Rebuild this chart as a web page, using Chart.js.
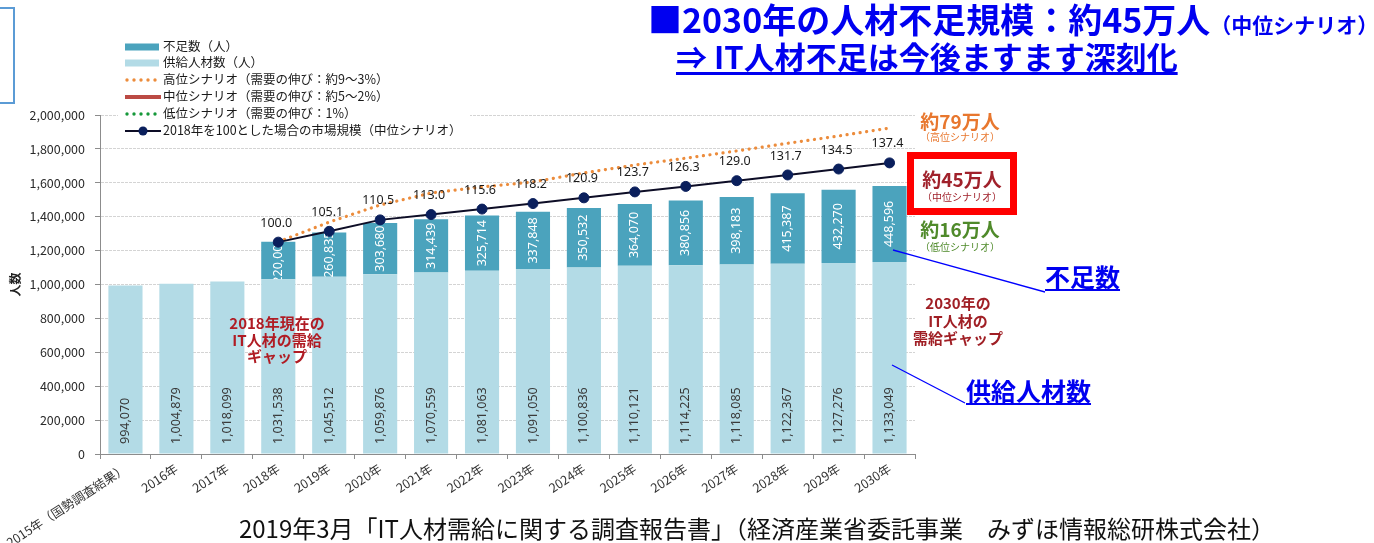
<!DOCTYPE html>
<html><head><meta charset="utf-8">
<script src="https://cdn.jsdelivr.net/npm/chart.js@4.4.1/dist/chart.umd.min.js"></script>
<style>
html,body{margin:0;padding:0;background:#fff;width:1374px;height:543px;overflow:hidden;font-family:'Noto Sans CJK JP','Noto Sans',sans-serif;}
#wrap{position:relative;width:1374px;height:543px;}
#c{position:absolute;left:0;top:0;}
.t{position:absolute;white-space:nowrap;line-height:1;}
.b{font-weight:bold;}
.ctr{text-align:center;}
#legendbox{position:absolute;left:118px;top:37px;width:352px;height:104px;background:#fff;}
.lg{position:absolute;left:163px;font-size:12.5px;color:#1a1a1a;line-height:1;white-space:nowrap;}
svg{position:absolute;left:0;top:0;}
</style></head>
<body><div id="wrap">
<canvas id="c" width="1374" height="543"></canvas>
<div id="legendbox"></div>
<svg width="1374" height="543" id="ov"></svg>
<div style="position:absolute;left:-10px;top:7px;width:21px;height:93px;border:2px solid #5b9bd5;"></div>
<div class="t b" style="left:648px;top:2px;font-size:34px;color:#0000f0;">■2030年の人材不足規模：約45万人<span style="font-size:21px;">（中位シナリオ）</span></div>
<div class="t b" style="left:676px;top:40px;font-size:31px;color:#0000f0;text-decoration:underline;text-underline-offset:3px;">⇒ IT人材不足は今後ますます深刻化</div>
<div class="lg" style="top:40px;">不足数（人）</div>
<div class="lg" style="top:56px;">供給人材数（人）</div>
<div class="lg" style="top:73px;">高位シナリオ（需要の伸び：約9～3%）</div>
<div class="lg" style="top:90px;">中位シナリオ（需要の伸び：約5～2%）</div>
<div class="lg" style="top:107px;">低位シナリオ（需要の伸び：1%）</div>
<div class="lg" style="top:124px;">2018年を100とした場合の市場規模（中位シナリオ）</div>
<div class="t b ctr" style="left:900px;width:120px;top:111px;font-size:19px;color:#e8772e;">約79万人</div>
<div class="t ctr" style="left:900px;width:120px;top:132px;font-size:10px;color:#e8772e;">（高位シナリオ）</div>
<div style="position:absolute;left:907px;top:152px;width:110px;height:63px;border:7px solid #ff0000;box-sizing:border-box;background:#fff;"></div>
<div class="t b ctr" style="left:902px;width:120px;top:169px;font-size:19px;color:#a0212b;">約45万人</div>
<div class="t ctr" style="left:902px;width:120px;top:192px;font-size:10px;color:#a0212b;">（中位シナリオ）</div>
<div class="t b ctr" style="left:900px;width:120px;top:219px;font-size:19px;color:#4f8a2a;">約16万人</div>
<div class="t ctr" style="left:900px;width:120px;top:242px;font-size:10px;color:#4f8a2a;">（低位シナリオ）</div>
<div class="t b" style="left:1045px;top:264px;font-size:25px;color:#0000f0;text-decoration:underline;">不足数</div>
<div class="t b" style="left:966px;top:378px;font-size:25px;color:#0000f0;text-decoration:underline;">供給人材数</div>
<div class="t b ctr" style="left:898px;width:120px;top:294px;font-size:15px;line-height:17.5px;color:#a01f25;">2030年の<br>IT人材の<br>需給ギャップ</div>
<div class="t b ctr" style="left:217px;width:120px;top:315px;font-size:15px;line-height:16.5px;color:#b01c24;">2018年現在の<br>IT人材の需給<br>ギャップ</div>
<div class="t ctr" style="left:157px;width:1200px;top:516px;font-size:24px;color:#111;">2019年3月「IT人材需給に関する調査報告書」（経済産業省委託事業　みずほ情報総研株式会社）</div>
</div>
<script>
const categories = ['2015年（国勢調査結果）','2016年','2017年','2018年','2019年','2020年','2021年','2022年','2023年','2024年','2025年','2026年','2027年','2028年','2029年','2030年'];
const supplyValues = [994070,1004879,1018099,1031538,1045512,1059876,1070559,1081063,1091050,1100836,1110121,1114225,1118085,1122367,1127276,1133049];
const shortageValues = [null,null,null,220000,260835,303680,314439,325714,337848,350532,364070,380856,398183,415387,432270,448596];
const midScenario = [null,null,null,1251538,1306347,1363556,1384998,1406777,1428898,1451368,1474191,1495081,1516268,1537754,1559546,1581645];
const highScenario = [null,null,null,1251538,1368000,1469000,1540000,1575000,1605000,1658000,1705000,1745000,1788000,1833000,1876000,1923049];
const lowScenario = [null,null,null,1251538,1255000,1259000,1262000,1266000,1269000,1273000,1276000,1280000,1283000,1286000,1290000,1293049];
const marketIndex = [null,null,null,100.0,105.1,110.5,113.0,115.6,118.2,120.9,123.7,126.3,129.0,131.7,134.5,137.4];
const yMin = 0, yMax = 2000000, yStep = 200000;
const indexMin = 0, indexMax = 160;

const C_SHORT = '#4ba3bd', C_SUPPLY = '#b3dbe6', C_HIGH = '#ec8c3c', C_MID = '#bb4a44', C_LOW = '#16983a', C_MKT_LINE = '#0d0d26', C_MKT_PT = '#0a1f5c';

(function(){
  const ov = document.getElementById('ov');
  const ns = 'http://www.w3.org/2000/svg';
  function el(tag, attrs){const e=document.createElementNS(ns,tag);for(const k in attrs)e.setAttribute(k,attrs[k]);ov.appendChild(e);return e;}
  el('rect',{x:125,y:43.5,width:34,height:7,fill:C_SHORT});
  el('rect',{x:125,y:59.5,width:34,height:7,fill:C_SUPPLY});
  for(let i=0;i<5;i++) el('circle',{cx:127+i*7,cy:80,r:1.7,fill:C_HIGH});
  el('line',{x1:125,y1:97,x2:161,y2:97,stroke:C_MID,'stroke-width':4});
  for(let i=0;i<5;i++) el('circle',{cx:127+i*7,cy:114,r:1.7,fill:C_LOW});
  el('line',{x1:125,y1:131,x2:161,y2:131,stroke:C_MKT_LINE,'stroke-width':2});
  el('circle',{cx:143,cy:131,r:4.5,fill:C_MKT_PT});
  el('line',{x1:893,y1:250,x2:1045,y2:292,stroke:'#0000ff','stroke-width':1.3});
  el('line',{x1:892,y1:365,x2:965,y2:403,stroke:'#0000ff','stroke-width':1.3});
})();

const labelPlugin = {
  id:'valueLabels',
  afterDatasetDraw(chart, args){
    const ds = chart.data.datasets[args.index];
    const ctx = chart.ctx;
    if (ds.labelKind === 'supply' || ds.labelKind === 'shortage'){
      ctx.save();
      ctx.font = "12.5px 'Noto Sans', sans-serif";
      args.meta.data.forEach((bar, i) => {
        const v = ds.data[i];
        if (v == null) return;
        const txt = v.toLocaleString('en-US');
        ctx.save();
        if (ds.labelKind === 'supply'){
          ctx.translate(bar.x, chart.chartArea.bottom - 10);
          ctx.rotate(-Math.PI/2);
          ctx.textAlign = 'left'; ctx.textBaseline = 'middle';
          ctx.fillStyle = '#3a3a3a';
        } else {
          ctx.translate(bar.x, (bar.y + bar.base)/2);
          ctx.rotate(-Math.PI/2);
          ctx.textAlign = 'center'; ctx.textBaseline = 'middle';
          ctx.fillStyle = '#ffffff';
        }
        ctx.fillText(txt, 0, 0);
        ctx.restore();
      });
      ctx.restore();
    }
  },
  afterDatasetsDraw(chart){
    const ctx = chart.ctx;
    chart.data.datasets.forEach((ds, di) => {
      if (ds.labelKind !== 'market') return;
      const meta = chart.getDatasetMeta(di);
      ctx.save();
      ctx.font = "12.5px 'Noto Sans', sans-serif";
      ctx.fillStyle = '#1a1a1a';
      ctx.textAlign = 'center'; ctx.textBaseline = 'middle';
      meta.data.forEach((pt, i) => {
        const v = ds.data[i];
        if (v == null) return;
        ctx.fillText(v.toFixed(1), pt.x - 2, pt.y - 19);
      });
      ctx.restore();
    });
  }
};

Chart.defaults.font.family = "'Noto Sans CJK JP','Noto Sans',sans-serif";
new Chart(document.getElementById('c'), {
  type:'bar',
  data:{
    labels: categories,
    datasets:[
      {type:'line', label:'2018年を100とした場合の市場規模（中位シナリオ）', data: marketIndex, yAxisID:'y1', order:0,
        borderColor:C_MKT_LINE, borderWidth:2, pointRadius:5, pointBackgroundColor:C_MKT_PT, pointBorderColor:C_MKT_PT, pointBorderWidth:1, tension:0, labelKind:'market'},
      {type:'line', label:'高位シナリオ（需要の伸び：約9～3%）', data: highScenario, yAxisID:'y', order:1,
        borderColor:C_HIGH, borderWidth:3.2, borderDash:[0.1,6.5], borderCapStyle:'round', pointRadius:0, tension:0},
      {type:'line', label:'低位シナリオ（需要の伸び：1%）', data: lowScenario, yAxisID:'y', order:2,
        borderColor:C_LOW, borderWidth:3.2, borderDash:[0.1,7.5], borderCapStyle:'round', pointRadius:0, tension:0},
      {type:'line', label:'中位シナリオ（需要の伸び：約5～2%）', data: midScenario, yAxisID:'y', order:3,
        borderColor:C_MID, borderWidth:4, pointRadius:0, tension:0},
      {type:'bar', label:'供給人材数（人）', data: supplyValues, yAxisID:'y', order:10, stack:'s',
        backgroundColor:C_SUPPLY, barPercentage:0.67, categoryPercentage:1, labelKind:'supply'},
      {type:'bar', label:'不足数（人）', data: shortageValues, yAxisID:'y', order:11, stack:'s',
        backgroundColor:C_SHORT, barPercentage:0.67, categoryPercentage:1, labelKind:'shortage'}
    ]
  },
  options:{
    responsive:false, devicePixelRatio:1, animation:false, events:[],
    layout:{padding:{left:0, top:115, right:459, bottom:0}},
    plugins:{legend:{display:false}, tooltip:{enabled:false}},
    scales:{
      x:{
        stacked:true,
        grid:{display:true, drawOnChartArea:false, drawTicks:true, tickLength:5, tickColor:'#8c8c8c', offset:true},
        border:{display:true, color:'#8c8c8c'},
        ticks:{autoSkip:false, minRotation:33, maxRotation:33, color:'#333', font:{size:12.5}, padding:2},
        afterFit(scale){ scale.height = 89; }
      },
      y:{
        stacked:true, min:yMin, max:yMax,
        ticks:{stepSize:yStep, color:'#2a2a2a', font:{size:12.5}, padding:10,
          callback:(v)=>v.toLocaleString('en-US')},
        grid:{color:'#d4d4d4', tickColor:'#8c8c8c', tickLength:5},
        border:{display:true, color:'#8c8c8c', dash:[3,1]},
        title:{display:true, text:'人数', font:{size:12, weight:'bold'}, color:'#222', padding:{top:8,bottom:0}},
        afterFit(scale){ scale.width = 100; }
      },
      y1:{display:false, min:indexMin, max:indexMax}
    }
  },
  plugins:[labelPlugin]
});
</script>
</body></html>
